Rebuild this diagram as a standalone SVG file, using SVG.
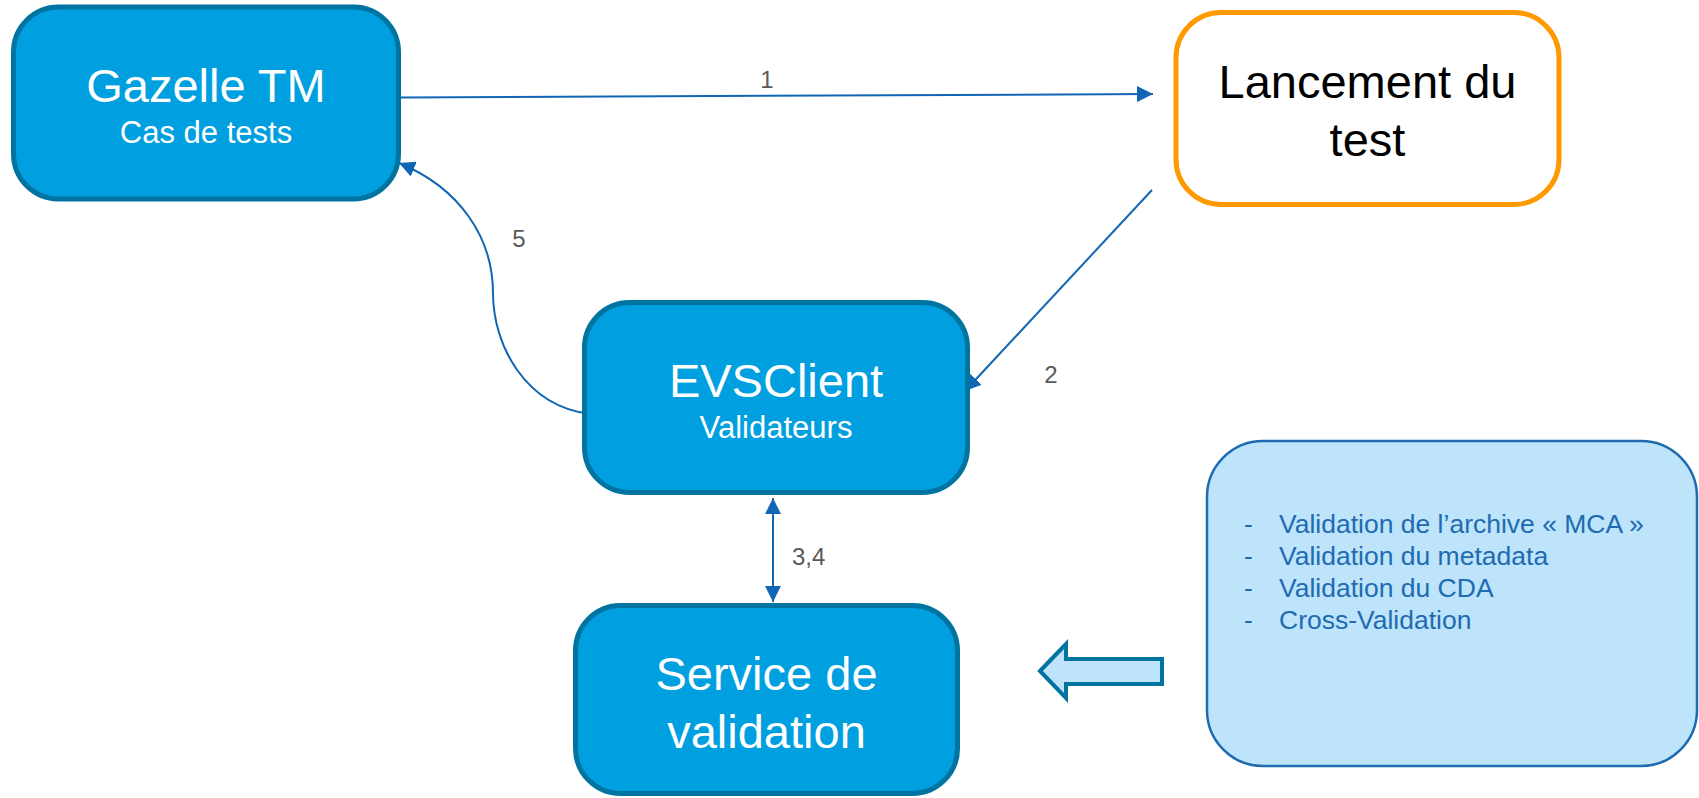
<svg xmlns="http://www.w3.org/2000/svg" width="1699" height="798" viewBox="0 0 1699 798">
<style>
.node{fill:#00A0E0;stroke:#0074A0;stroke-width:5}
.t{font-family:"Liberation Sans",Arial,sans-serif;text-anchor:middle}
.w{fill:#FFFFFF}
.big{font-size:47px}
.sm{font-size:31px}
.lbl{font-family:"Liberation Sans",Arial,sans-serif;font-size:24px;fill:#595959}
.conn{fill:none;stroke:#1066B4;stroke-width:2}
.li{font-family:"Liberation Sans",Arial,sans-serif;font-size:26.5px;fill:#1F6BB0}
</style>
<defs>
<marker id="ah" viewBox="0 0 10 10" refX="10" refY="5" markerWidth="8" markerHeight="8" orient="auto-start-reverse" markerUnits="strokeWidth">
<path d="M0,0 L10,5 L0,10 z" fill="#1066B4"/>
</marker>
</defs>
<g id="connectors">
<line class="conn" x1="401" y1="97.5" x2="1153" y2="94" marker-end="url(#ah)"/>
<line class="conn" x1="1152" y1="190" x2="965" y2="391" marker-end="url(#ah)"/>
<path class="conn" d="M590,414 C525,406 493,345 493,293 C493,238 460,188 399,163" marker-end="url(#ah)"/>
<line class="conn" x1="773" y1="498" x2="773" y2="602" marker-start="url(#ah)" marker-end="url(#ah)"/>
<text class="lbl" x="767" y="88" text-anchor="middle">1</text>
<text class="lbl" x="1051" y="383" text-anchor="middle">2</text>
<text class="lbl" x="792" y="565">3,4</text>
<text class="lbl" x="519" y="247" text-anchor="middle">5</text>
</g>
<g id="gazelle">
<rect class="node" x="13.5" y="7" width="385" height="192" rx="45"/>
<text class="t w big" x="206" y="102">Gazelle TM</text>
<text class="t w sm" x="206" y="143">Cas de tests</text>
</g>
<g id="lancement">
<rect x="1176" y="12.5" width="383" height="192" rx="45" fill="#FFFFFF" stroke="#FF9900" stroke-width="5"/>
<text class="t big" x="1367.5" y="98" font-size="48" fill="#000000">Lancement du</text>
<text class="t big" x="1367.5" y="156" fill="#000000">test</text>
</g>
<g id="evsclient">
<rect class="node" x="584.5" y="302.5" width="383" height="190" rx="45"/>
<text class="t w big" x="776" y="397">EVSClient</text>
<text class="t w sm" x="776" y="438">Validateurs</text>
</g>
<g id="service">
<rect class="node" x="575.5" y="605.5" width="382" height="188" rx="45"/>
<text class="t w big" x="766.5" y="690">Service de</text>
<text class="t w big" x="766.5" y="748">validation</text>
</g>
<g id="block-arrow">
<polygon points="1040,671 1066,644 1066,659 1162,659 1162,684 1066,684 1066,698" fill="#BDE4FB" stroke="#0074A0" stroke-width="4"/>
</g>
<g id="info">
<rect x="1207" y="441" width="490" height="325" rx="56" fill="#BDE4FB" stroke="#1F6BB0" stroke-width="2.5"/>
<text class="li" x="1244" y="533">-</text>
<text class="li" x="1279" y="533">Validation de l’archive « MCA »</text>
<text class="li" x="1244" y="565">-</text>
<text class="li" x="1279" y="565">Validation du metadata</text>
<text class="li" x="1244" y="597">-</text>
<text class="li" x="1279" y="597">Validation du CDA</text>
<text class="li" x="1244" y="629">-</text>
<text class="li" x="1279" y="629">Cross-Validation</text>
</g>
</svg>
